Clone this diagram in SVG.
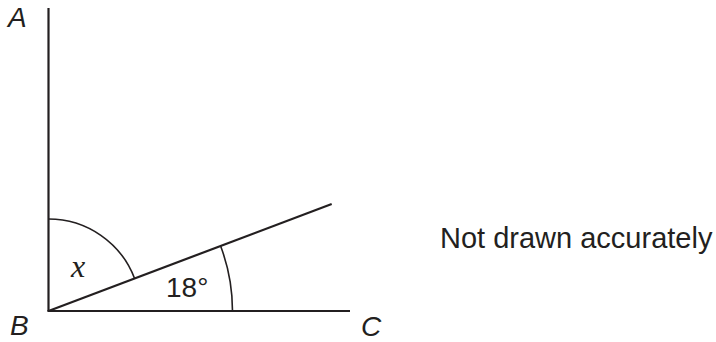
<svg xmlns="http://www.w3.org/2000/svg" width="716" height="342" viewBox="0 0 716 342">
<style>
.ln{stroke:#231f20;stroke-width:2.2;fill:none;stroke-linecap:butt}
.arc{stroke:#231f20;stroke-width:1.6;fill:none}
.lbl{font-family:"Liberation Sans",Arial,sans-serif;font-style:italic;font-size:28px;fill:#231f20}
.txt{font-family:"Liberation Sans",Arial,sans-serif;font-size:28px;fill:#231f20}
.note{font-family:"Liberation Sans",Arial,sans-serif;font-size:29px;fill:#231f20}
.var{font-family:"Liberation Serif","Times New Roman",serif;font-style:italic;font-size:32px;fill:#231f20}
</style>
<rect width="716" height="342" fill="#ffffff"/>
<g id="connectors">
<line class="ln" x1="48.5" y1="8" x2="48.5" y2="311"/>
<line class="ln" x1="47.4" y1="311" x2="350" y2="311"/>
<line class="ln" x1="48.5" y1="311" x2="331.7" y2="204"/>
<path class="arc" d="M48.5,219 A92,92 0 0 1 134.6,278.5"/>
<path class="arc" d="M220.6,246 A184,184 0 0 1 232.5,311"/>
</g>
<g id="A"><text class="lbl" x="8" y="27">A</text></g>
<g id="B"><text class="lbl" x="10" y="335">B</text></g>
<g id="C"><text class="lbl" x="361" y="336">C</text></g>
<g id="angle-x"><text class="var" x="71" y="277">x</text></g>
<g id="angle-18"><text class="txt" x="166" y="297">18°</text></g>
<g id="note"><text class="note" x="440" y="248">Not drawn accurately</text></g>
</svg>
